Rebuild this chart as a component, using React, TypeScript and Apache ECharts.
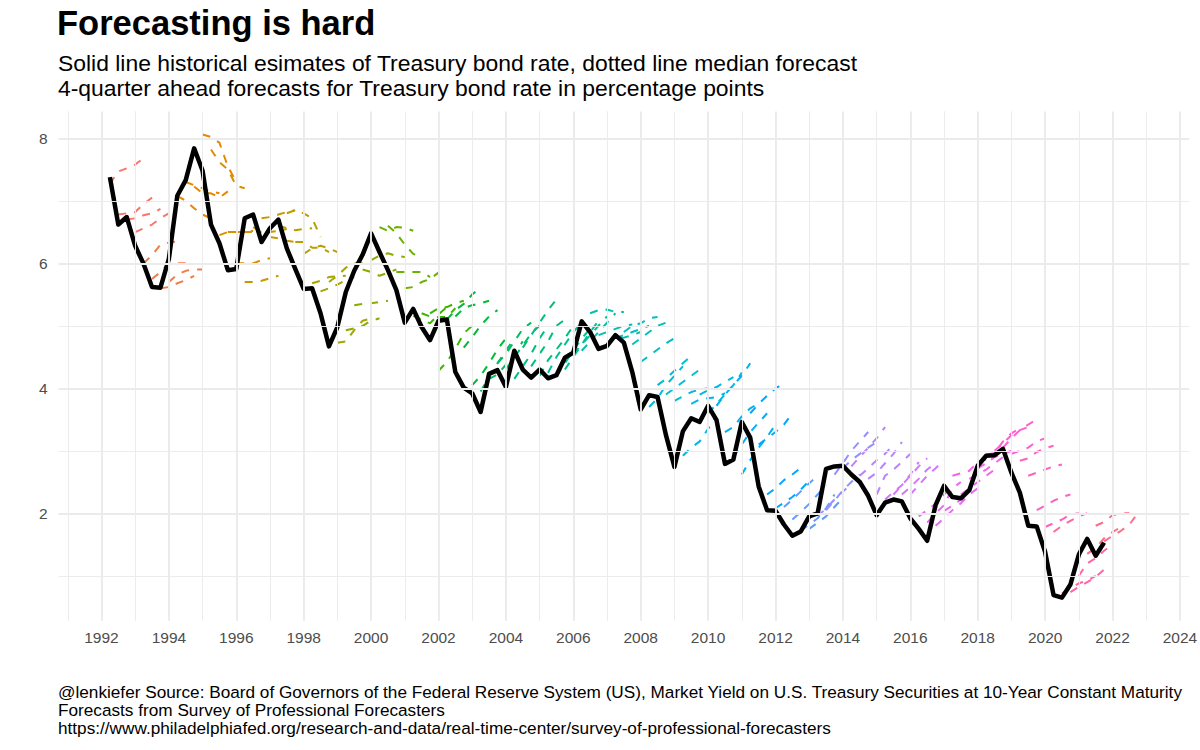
import React, { useEffect, useRef } from "react";
import * as echarts from "echarts";

// ---------- texts ----------
const TITLE = "Forecasting is hard";
const SUBTITLE_LINES = [
  "Solid line historical esimates of Treasury bond rate, dotted line median forecast",
  "4-quarter ahead forecasts for Treasury bond rate in percentage points",
];
const CAPTION_LINES = [
  "@lenkiefer Source: Board of Governors of the Federal Reserve System (US), Market Yield on U.S. Treasury Securities at 10-Year Constant Maturity",
  "Forecasts from Survey of Professional Forecasters",
  "https://www.philadelphiafed.org/research-and-data/real-time-center/survey-of-professional-forecasters",
];

// ---------- data ----------
// quarterly 10-year Treasury rate, starting 1992Q2
const FIRST_QUARTER = "1992Q2";
const actualRate = [
  7.38, 6.62, 6.74,
  6.28, 5.99, 5.62, 5.61,
  6.07, 7.08, 7.33, 7.84,
  7.48, 6.62, 6.32, 5.89,
  5.91, 6.72, 6.78, 6.34,
  6.56, 6.70, 6.24, 5.91,
  5.59, 5.60, 5.20, 4.67,
  4.98, 5.54, 5.88, 6.14,
  6.48, 6.18, 5.89, 5.57,
  5.05, 5.27, 4.98, 4.77,
  5.08, 5.10, 4.26, 4.01,
  3.92, 3.62, 4.23, 4.29,
  4.02, 4.60, 4.30, 4.17,
  4.30, 4.16, 4.21, 4.49,
  4.57, 5.07, 4.90, 4.63,
  4.68, 4.85, 4.73, 4.26,
  3.66, 3.89, 3.86, 3.25,
  2.74, 3.31, 3.52, 3.46,
  3.72, 3.49, 2.79, 2.86,
  3.46, 3.21, 2.43, 2.05,
  2.04, 1.82, 1.64, 1.71,
  1.95, 2.00, 2.71, 2.75,
  2.76, 2.62, 2.50, 2.28,
  1.97, 2.17, 2.22, 2.19,
  1.92, 1.75, 1.56, 2.13,
  2.44, 2.26, 2.24, 2.37,
  2.76, 2.92, 2.93, 3.03,
  2.65, 2.33, 1.80, 1.79,
  1.38, 0.69, 0.65, 0.86,
  1.34, 1.59, 1.32, 1.53,
];

// median forecast paths; row i begins at the quarter of actualRate[i]
// (survey made one quarter earlier), 5 quarterly values
const forecasts1992to1999 = [
  [7.27, 7.47, 7.52, 7.58, 7.68],
  [6.78, 6.8, 6.82, 6.95, 7.05],
  [6.7, 6.72, 6.77, 6.8, 6.87],
  [6.5, 6.56, 6.62, 6.72, 6.8],
  [6.0, 6.13, 6.3, 6.33, 6.35],
  [5.75, 5.86, 6.0, 6.0, 6.0],
  [5.6, 5.62, 5.68, 5.73, 5.8],
  [5.7, 5.82, 5.88, 5.9, 5.9],
  [7.08, 7.0, 6.88, 6.78, 6.72],
  [7.3, 7.25, 7.2, 7.15, 7.12],
  [7.23, 7.12, 7.12, 7.05, 7.15],
  [8.06, 8.02, 7.93, 7.55, 7.3],
  [7.82, 7.62, 7.5, 7.24, 7.2],
  [6.45, 6.5, 6.5, 6.5, 6.52],
  [6.5, 6.5, 6.5, 6.5, 6.5],
  [6.0, 6.0, 6.0, 6.05, 6.08],
  [5.7, 5.7, 5.72, 5.76, 5.8],
  [6.58, 6.5, 6.5, 6.52, 6.55],
  [6.72, 6.74, 6.78, 6.82, 6.85],
  [6.42, 6.4, 6.36, 6.34, 6.34],
  [6.6, 6.56, 6.53, 6.55, 6.56],
  [6.8, 6.85, 6.8, 6.72, 6.42],
  [6.34, 6.34, 6.25, 6.25, 6.18],
  [6.15, 6.24, 6.28, 6.24, 6.18],
  [5.68, 5.72, 5.78, 5.79, 5.8],
  [5.55, 5.6, 5.66, 5.73, 5.78],
  [5.7, 5.8, 5.93, 6.0, 6.0],
  [4.73, 4.75, 4.93, 5.08, 5.12],
  [4.93, 4.96, 5.0, 5.08, 5.12],
  [5.33, 5.35, 5.36, 5.38, 5.4],
  [5.9, 5.86, 5.8, 5.85, 5.9],
];
const forecasts2000to2009 = [
  [6.05, 6.12, 6.16, 6.12, 6.1],
  [6.58, 6.52, 6.58, 6.57, 6.52],
  [6.6, 6.48, 6.3, 6.15, 6.1],
  [5.86, 5.86, 5.86, 5.86, 5.78],
  [5.6, 5.62, 5.7, 5.75, 5.85],
  [5.16, 5.1, 5.04, 5.18, 5.3],
  [5.2, 5.15, 5.14, 5.14, 5.28],
  [5.2, 5.28, 5.3, 5.36, 5.4],
  [4.28, 4.42, 4.63, 4.88, 5.0],
  [5.1, 5.25, 5.35, 5.5, 5.62],
  [5.15, 5.28, 5.33, 5.36, 5.4],
  [4.65, 4.82, 5.0, 5.15, 5.25],
  [4.05, 4.2, 4.4, 4.62, 4.8],
  [3.95, 4.18, 4.4, 4.6, 4.8],
  [4.15, 4.22, 4.38, 4.55, 4.75],
  [4.4, 4.55, 4.75, 4.95, 5.05],
  [4.3, 4.5, 4.68, 4.88, 5.0],
  [4.15, 4.35, 4.55, 4.8, 5.0],
  [4.65, 4.85, 5.05, 5.25, 5.42],
  [4.35, 4.55, 4.75, 5.0, 5.1],
  [4.2, 4.45, 4.62, 4.8, 5.0],
  [4.25, 4.5, 4.7, 4.9, 5.05],
  [4.2, 4.4, 4.6, 4.8, 4.95],
  [4.3, 4.5, 4.7, 4.9, 5.08],
  [4.55, 4.7, 4.85, 5.0, 5.15],
  [4.6, 4.75, 4.9, 5.05, 5.2],
  [5.2, 5.25, 5.26, 5.22, 5.22],
  [4.85, 4.9, 4.95, 5.0, 5.02],
  [4.7, 4.8, 4.81, 4.85, 4.9],
  [4.8, 4.85, 4.9, 4.95, 5.0],
  [4.9, 5.0, 5.04, 5.12, 5.14],
  [4.7, 4.8, 4.9, 5.0, 5.05],
  [4.42, 4.52, 4.62, 4.72, 4.8],
  [3.7, 3.84, 4.05, 4.2, 4.35],
  [4.05, 4.15, 4.28, 4.4, 4.52],
  [3.9, 4.0, 4.1, 4.2, 4.3],
  [3.8, 3.87, 3.94, 3.98, 4.0],
  [2.92, 3.05, 3.15, 3.35, 3.55],
  [3.75, 3.82, 3.84, 3.86, 3.92],
  [3.9, 3.97, 4.02, 4.1, 4.18],
];
const forecasts2010to2021 = [
  [3.6, 3.75, 3.9, 4.05, 4.25],
  [3.72, 3.9, 4.05, 4.2, 4.4],
  [3.3, 3.38, 3.55, 3.68, 3.76],
  [2.9, 3.1, 3.3, 3.45, 3.6],
  [2.62, 2.85, 3.05, 3.22, 3.42],
  [3.6, 3.75, 3.88, 4.0, 4.08],
  [3.1, 3.2, 3.3, 3.42, 3.6],
  [2.3, 2.4, 2.53, 2.62, 2.73],
  [2.08, 2.17, 2.26, 2.38, 2.52],
  [2.1, 2.22, 2.35, 2.48, 2.6],
  [1.9, 2.02, 2.15, 2.3, 2.45],
  [1.72, 1.82, 1.92, 2.08, 2.3],
  [1.75, 1.85, 1.95, 2.1, 2.25],
  [1.95, 2.08, 2.22, 2.35, 2.46],
  [2.05, 2.2, 2.37, 2.5, 2.62],
  [2.62, 2.8, 3.0, 3.15, 3.3],
  [2.72, 2.85, 2.95, 3.05, 3.14],
  [2.75, 2.9, 3.05, 3.2, 3.38],
  [2.6, 2.72, 2.85, 2.95, 3.1],
  [2.55, 2.65, 2.8, 2.95, 3.14],
  [2.3, 2.6, 2.7, 2.82, 2.95],
  [2.22, 2.34, 2.45, 2.62, 2.82],
  [2.3, 2.45, 2.6, 2.75, 2.88],
  [2.3, 2.42, 2.55, 2.7, 2.8],
  [2.3, 2.45, 2.6, 2.72, 2.85],
  [1.95, 2.05, 2.15, 2.3, 2.45],
  [1.85, 2.0, 2.13, 2.4, 2.5],
  [1.8, 1.92, 2.05, 2.16, 2.3],
  [2.04, 2.12, 2.22, 2.3, 2.4],
  [2.6, 2.64, 2.68, 2.82, 2.86],
  [2.3, 2.4, 2.5, 2.6, 2.7],
  [2.55, 2.62, 2.7, 2.8, 2.9],
  [2.72, 2.8, 2.9, 2.95, 3.0],
  [2.94, 2.96, 3.15, 3.28, 3.36],
  [3.0, 3.12, 3.25, 3.33, 3.38],
  [3.05, 3.2, 3.33, 3.42, 3.5],
  [2.95, 3.0, 3.05, 3.15, 3.2],
  [2.84, 2.88, 2.98, 3.04, 3.08],
  [2.6, 2.65, 2.7, 2.75, 2.78],
  [2.05, 2.12, 2.2, 2.26, 2.3],
  [1.78, 1.84, 1.9, 1.98, 2.0],
  [1.7, 1.8, 1.88, 1.95, 2.0],
  [0.72, 0.8, 0.88, 0.92, 1.0],
  [0.74, 0.82, 0.9, 0.98, 1.1],
  [1.0, 1.2, 1.28, 1.4, 1.5],
  [1.35, 1.45, 1.6, 1.7, 1.78],
  [1.8, 1.86, 1.97, 2.0, 2.0],
  [1.55, 1.64, 1.72, 1.82, 2.0],
];

// axis ticks / grid breaks
const majorXTicks = [1992, 1994, 1996, 1998, 2000, 2002, 2004, 2006, 2008, 2010, 2012, 2014, 2016, 2018, 2020, 2022, 2024];
const minorXTicks = [1991, 1993, 1995, 1997, 1999, 2001, 2003, 2005, 2007, 2009, 2011, 2013, 2015, 2017, 2019, 2021, 2023];
const majorYTicks = [2, 4, 6, 8];
const minorYTicks = [1, 3, 5, 7];

// ---------- helpers ----------
const FONT = "'Liberation Sans', Arial, Helvetica, sans-serif";

function hclHex(h: number, c: number, l: number): string {
  const WX = 95.047, WY = 100.0, WZ = 108.883;
  const hr = (h * Math.PI) / 180;
  const U = c * Math.cos(hr);
  const V = c * Math.sin(hr);
  const Y = WY * (l > 7.999592 ? Math.pow((l + 16) / 116, 3) : l / 903.3);
  const t = WX + WY + WZ;
  const x = WX / t, y = WY / t;
  const uN = (2 * x) / (6 * y - x + 1.5);
  const vN = (4.5 * y) / (6 * y - x + 1.5);
  const u = U / (13 * l) + uN;
  const v = V / (13 * l) + vN;
  const X = (9 * Y * u) / (4 * v);
  const Z = -X / 3 - 5 * Y + (3 * Y) / v;
  const g = (q: number) => (q > 0.00304 ? 1.055 * Math.pow(q, 1 / 2.4) - 0.055 : 12.92 * q);
  const r = g((3.240479 * X - 1.53715 * Y - 0.498535 * Z) / WY);
  const gg = g((-0.969256 * X + 1.875992 * Y + 0.041556 * Z) / WY);
  const b = g((0.055648 * X - 0.204043 * Y + 1.057311 * Z) / WY);
  const hx = (q: number) => Math.round(255 * Math.min(1, Math.max(0, q))).toString(16).padStart(2, "0");
  return "#" + hx(r) + hx(gg) + hx(b);
}

function huePalette(n: number): string[] {
  const out: string[] = [];
  for (let i = 0; i < n; i++) out.push(hclHex(15 + (360 * i) / n, 100, 65));
  return out;
}

function quarterDate(first: string, offset: number): number {
  const [ys, qs] = first.split("Q");
  const idx = Number(ys) * 4 + (Number(qs) - 1) + offset;
  return Math.floor(idx / 4) + (idx % 4) / 4;
}

function buildOption() {
  const forecastPaths = [...forecasts1992to1999, ...forecasts2000to2009, ...forecasts2010to2021];
  const actualPts = actualRate.map((v, i) => [quarterDate(FIRST_QUARTER, i), v]);
  const fcPts = forecastPaths.map((row, i) => row.map((v, h) => [quarterDate(FIRST_QUARTER, i + h), v]));
  const surveyYears = forecastPaths.map((_, i) => Math.floor(quarterDate(FIRST_QUARTER, i - 1)));
  const firstYear = Math.min(...surveyYears);
  const nYears = Math.max(...surveyYears) - firstYear + 1;
  const pal = huePalette(nYears);

  const allX = [...actualPts.map((p) => p[0]), ...fcPts.flat().map((p) => p[0])];
  const allY = [...actualRate, ...forecastPaths.flat()];
  const xLo = Math.min(...allX), xHi = Math.max(...allX);
  const yLo = Math.min(...allY), yHi = Math.max(...allY);
  const xPad = (xHi - xLo) * 0.05, yPad = (yHi - yLo) * 0.05;
  const xMin = xLo - xPad, xMax = xHi + xPad;
  const yMin = yLo - yPad, yMax = yHi + yPad;

  const major = { color: "#EBEBEB", width: 1.9, type: "solid" as const };
  const minor = { color: "#EBEBEB", width: 0.95, type: "solid" as const };
  const gridLines = [
    ...minorXTicks.map((v) => ({ xAxis: v, lineStyle: minor })),
    ...minorYTicks.map((v) => ({ yAxis: v, lineStyle: minor })),
    ...majorXTicks.filter((v) => v >= xMin && v <= xMax).map((v) => ({ xAxis: v, lineStyle: major })),
    ...majorYTicks.map((v) => ({ yAxis: v, lineStyle: major })),
  ];

  const series: any[] = [
    {
      type: "line",
      name: "grid",
      data: [[xMin, yMin]],
      showSymbol: false,
      symbol: "none",
      lineStyle: { opacity: 0 },
      silent: true,
      z: 1,
      markLine: {
        silent: true,
        symbol: ["none", "none"],
        label: { show: false },
        animation: false,
        data: gridLines,
      },
    },
  ];

  fcPts.forEach((pts, i) => {
    series.push({
      type: "line",
      name: "forecast " + i,
      data: pts,
      showSymbol: false,
      symbol: "none",
      silent: true,
      z: 2,
      lineStyle: { color: pal[surveyYears[i] - firstYear], width: 2, type: [8, 8] },
    });
  });

  series.push({
    type: "line",
    name: "actual",
    data: actualPts,
    showSymbol: false,
    symbol: "none",
    silent: true,
    z: 3,
    lineStyle: { color: "#000000", width: 4.5, join: "round", cap: "butt" },
  });

  return {
    animation: false,
    backgroundColor: "#FFFFFF",
    title: [
      {
        text: TITLE,
        left: 57,
        top: 3,
        padding: 0,
        textStyle: { fontFamily: FONT, fontSize: 34.5, fontWeight: "bold", color: "#000000", lineHeight: 40 },
      },
      {
        text: SUBTITLE_LINES.join("\n"),
        left: 58,
        top: 50,
        padding: 0,
        textStyle: { fontFamily: FONT, fontSize: 22.9, fontWeight: "normal", color: "#000000", lineHeight: 25 },
      },
      {
        text: CAPTION_LINES.join("\n"),
        left: 58,
        top: 683,
        padding: 0,
        textStyle: { fontFamily: FONT, fontSize: 17.2, fontWeight: "normal", color: "#000000", lineHeight: 18 },
      },
    ],
    grid: {
      left: 58.5,
      right: 10.8,
      top: 111.4,
      bottom: 129.2,
      containLabel: false,
      outerBoundsMode: "none",
    },
    xAxis: {
      type: "value",
      min: xMin,
      max: xMax,
      splitNumber: 16,
      axisLine: { show: false },
      axisTick: { show: false },
      splitLine: { show: false },
      minorSplitLine: { show: false },
      axisLabel: {
        customValues: majorXTicks,
        color: "#4D4D4D",
        fontFamily: FONT,
        fontSize: 15.5,
        margin: 9,
        showMinLabel: true,
        showMaxLabel: true,
        formatter: (v: number) => (Number.isInteger(v) ? String(v) : ""),
      },
    },
    yAxis: {
      type: "value",
      min: yMin,
      max: yMax,
      splitNumber: 4,
      axisLine: { show: false },
      axisTick: { show: false },
      splitLine: { show: false },
      minorSplitLine: { show: false },
      axisLabel: {
        customValues: majorYTicks,
        color: "#4D4D4D",
        fontFamily: FONT,
        fontSize: 15.5,
        margin: 11,
        formatter: (v: number) => (Number.isInteger(v) ? String(v) : ""),
      },
    },
    series,
  };
}

export default function App() {
  const ref = useRef<HTMLDivElement>(null);
  useEffect(() => {
    document.body.style.margin = "0";
    const chart = echarts.init(ref.current as HTMLDivElement, null, { renderer: "svg" });
    chart.setOption(buildOption() as any);
    return () => {
      chart.dispose();
    };
  }, []);
  return <div ref={ref} style={{ width: 1200, height: 750 }} />;
}
